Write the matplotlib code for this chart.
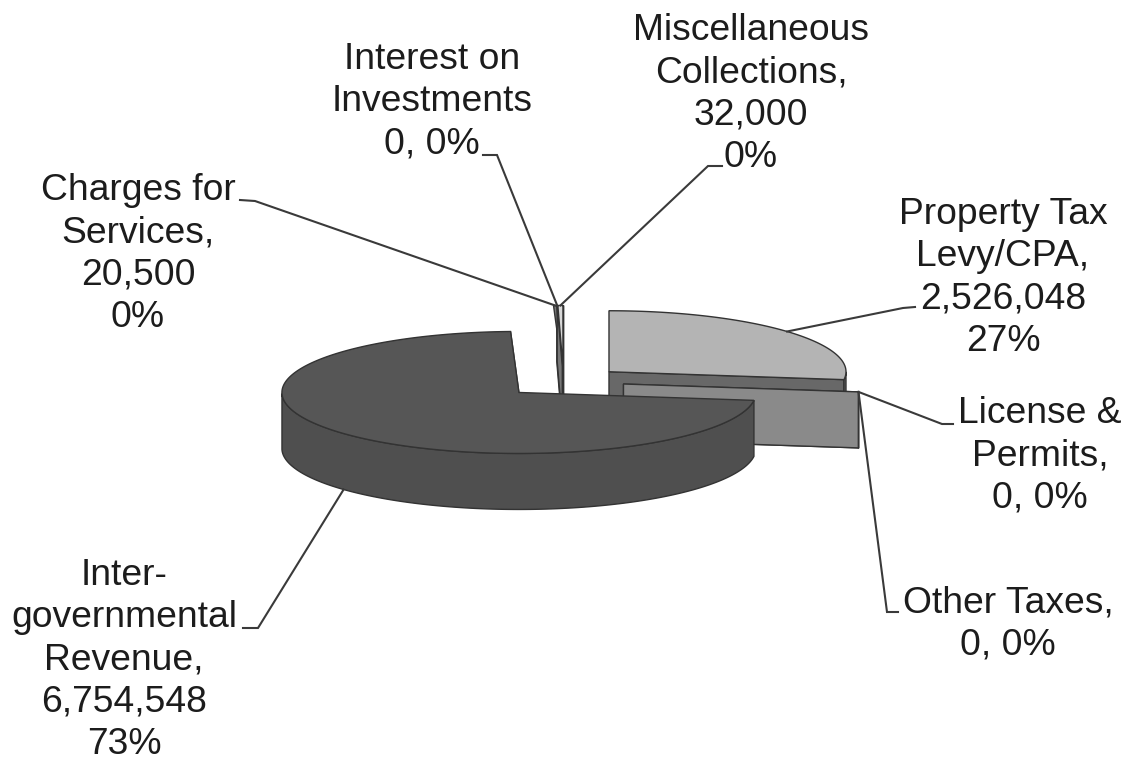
import numpy as np
import matplotlib
matplotlib.use('Agg')
import matplotlib.pyplot as plt
from matplotlib.patches import Polygon

plt.rcParams['font.family'] = ['Liberation Sans', 'DejaVu Sans']

# clockwise from 12 o'clock, same order as the spreadsheet
categories = ['Property Tax Levy/CPA', 'License & Permits', 'Other Taxes',
              'Intergovernmental Revenue', 'Charges for Services',
              'Interest on Investments', 'Miscellaneous Collections']
values = [2526048, 0, 0, 6754548, 20500, 0, 32000]
labels = ['Property Tax\nLevy/CPA,\n2,526,048\n27%',
          'License &\nPermits,\n0, 0%',
          'Other Taxes,\n0, 0%',
          'Inter-\ngovernmental\nRevenue,\n6,754,548\n73%',
          'Charges for\nServices,\n20,500\n0%',
          'Interest on\nInvestments\n0, 0%',
          'Miscellaneous\nCollections,\n32,000\n0%']
top_colors = ['#b4b4b4', '#8c8c8c', '#8c8c8c', '#565656', '#777777', '#999999', '#d8d8d8']
side_colors = ['#686868', '#8a8a8a', '#8a8a8a', '#4f4f4f', '#666666', '#777777', '#bbbbbb']

# label centre and elbow of the leader line
label_pos = [(1003, 278), (1040, 456), (1008, 624), (124, 660), (138, 254), (432, 101.5), (751, 94)]
elbows = [[(915, 307), (903, 308)], [(953, 424), (942, 424)], [(898, 612), (887, 612)],
          [(243, 628), (258, 628)], [(240, 200), (255, 201)], [(483, 155), (497, 155)], [(722, 166), (708, 166)]]

CX, CY = 563.6, 382.0
A, B = 237.0, 61.0   # ellipse radii of the pie
DEPTH = 56.0
EXPLODE = 60.4
LINE = '#333333'

fig = plt.figure(figsize=(11.3, 7.63), dpi=100)
ax = fig.add_axes([0, 0, 1, 1])
ax.set_xlim(0, 1130)
ax.set_ylim(763, 0)
ax.axis('off')


def rim(cx, cy, theta):
    return np.column_stack([cx + A * np.cos(theta), cy - B * np.sin(theta)])


def draw_slice(start, end, top, side):
    mid = (start + end) / 2
    cx = CX + EXPLODE * np.cos(mid)
    cy = CY - EXPLODE * B / A * np.sin(mid)
    theta = np.linspace(start, end, 200)
    edge = rim(cx, cy, theta)
    # cut face looking at the viewer (the clockwise end of the slice)
    face = np.array([[cx, cy], edge[-1], edge[-1] + [0, DEPTH], [cx, cy + DEPTH]])
    ax.add_patch(Polygon(face, fc=side, ec=LINE, lw=1.0))
    # outer wall, front half only
    front = np.sin(theta) < 0
    if front.sum() > 1:
        low = edge[front]
        wall = np.vstack([low, low[::-1] + [0, DEPTH]])
        ax.add_patch(Polygon(wall, fc=side, ec=LINE, lw=1.0))
    if end != start:
        ax.add_patch(Polygon(np.vstack([[cx, cy], edge]), fc=top, ec=LINE, lw=1.0))
    return cx, cy, mid


angles = 2 * np.pi * np.cumsum([0] + values) / sum(values)
starts = np.pi / 2 - angles[:-1]
ends = np.pi / 2 - angles[1:]

# back slices first, the big one last so it sits in front
order = [4, 5, 6, 0, 1, 2, 3]
anchors = {}
for i in order:
    cx, cy, mid = draw_slice(starts[i], ends[i], top_colors[i], side_colors[i])
    p = rim(cx, cy, np.array([mid]))[0]
    if np.sin(mid) < 0 and values[i] > 0:
        p = p + [0, DEPTH]
    anchors[i] = p

for i in range(len(values)):
    pts = np.array(elbows[i] + [anchors[i]])
    ax.plot(pts[:, 0], pts[:, 1], color='#3a3a3a', lw=1.5, solid_joinstyle='miter')
    ax.text(label_pos[i][0], label_pos[i][1], labels[i], ha='center', va='center',
            fontsize=26.8, color='#1c1c1c', linespacing=1.27)

fig.savefig('out.png', dpi=100)
